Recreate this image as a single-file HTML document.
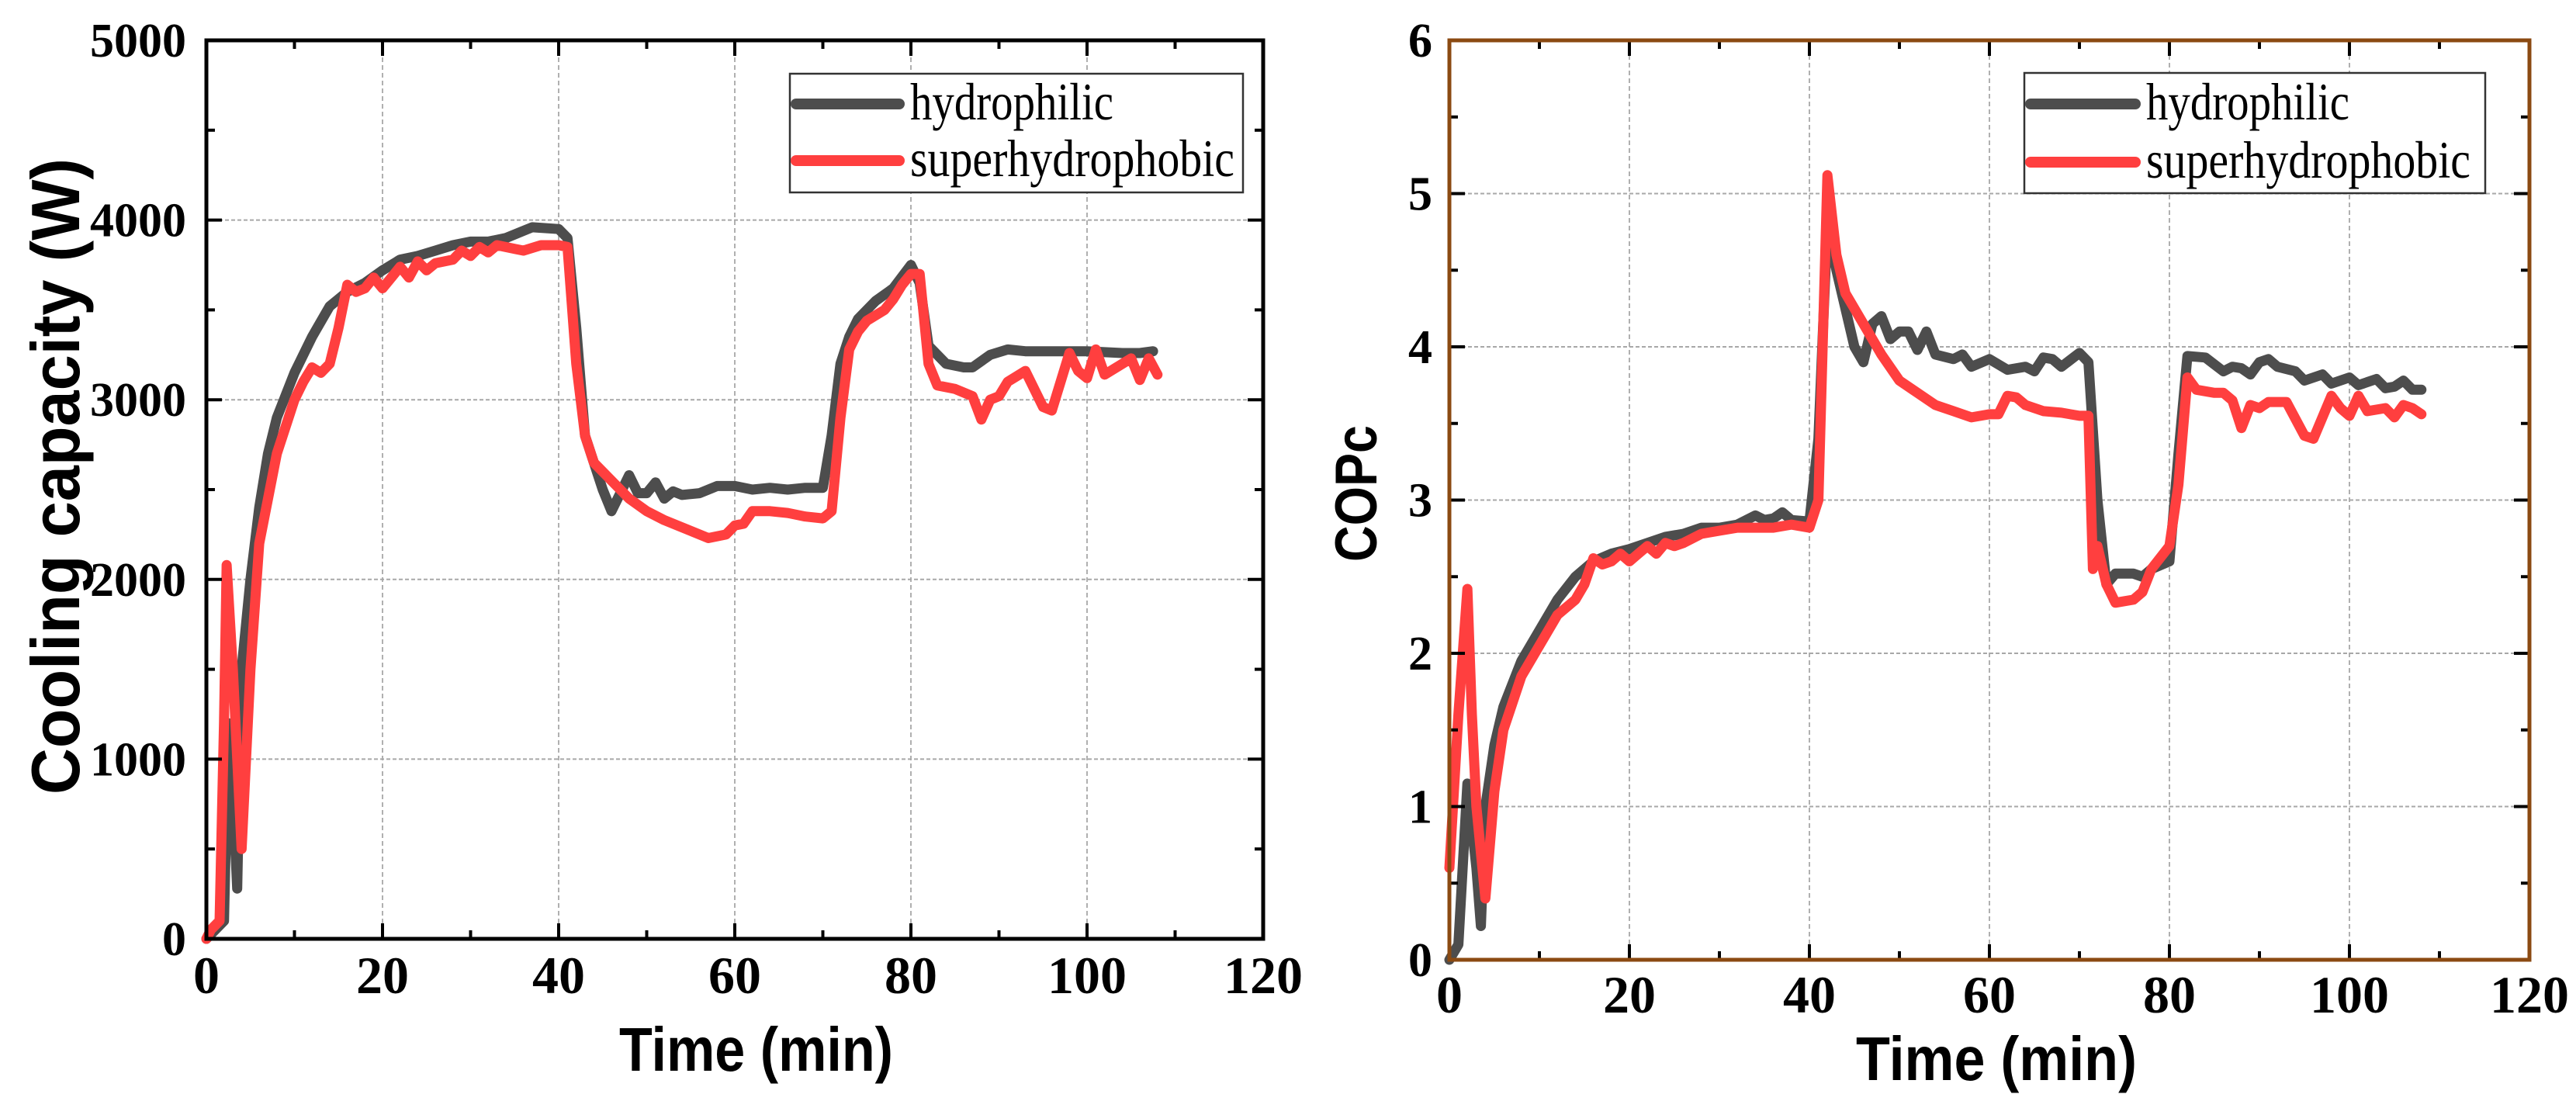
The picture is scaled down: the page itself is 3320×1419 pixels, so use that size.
<!DOCTYPE html>
<html><head><meta charset="utf-8"><style>
html,body{margin:0;padding:0;background:#fff;}
svg{display:block;}
</style></head><body>
<svg id="fig" width="3320" height="1419" viewBox="0 0 3320 1419" xmlns="http://www.w3.org/2000/svg">
<g id="left"></g>
<g id="right"></g>
</svg>
<script>
// ---- data: cooling capacity ----
const capHydT = [0,1,2,2.5,3,3.5,4,5,6,7,8,10,12,14,16,18,20,22,24,26,28,30,32,34,36,37,40,41,42,43,45,46,47,48,49,50,51,52,53,54,56,58,60,62,64,66,68,70,71,72,73,74,76,78,80,81,82,84,86,87,89,91,93,95,100,104,106,107.5];
const capHydV = [0,50,100,1200,800,280,1500,2000,2400,2700,2900,3150,3350,3520,3600,3650,3720,3780,3800,3830,3860,3880,3880,3900,3940,3960,3950,3900,3400,2800,2500,2380,2480,2580,2480,2480,2540,2450,2490,2470,2480,2520,2520,2500,2510,2500,2510,2510,2800,3200,3350,3450,3550,3620,3750,3650,3300,3200,3180,3180,3250,3280,3270,3270,3270,3260,3260,3270];
const capSupT = [0,0.5,1.5,2,2.3,3,4,5,6,8,10,11,12,13,14,15,16,17,18,19,20,21,22,23,24,25,26,28,29,30,31,32,33,35,36,38,40,41,42,43,44,46,48,50,52,54,56,57,59,60,61,62,64,66,68,70,71,72,73,74,75,77,78,79,80,81,82,83,85,87,88,89,90,91,93,95,96,98,99,100,101,102,104,105,106,107,108];
const capSupV = [0,50,100,1200,2080,1500,500,1500,2200,2700,3000,3100,3180,3150,3200,3400,3640,3600,3620,3680,3620,3680,3740,3680,3770,3720,3760,3780,3830,3800,3850,3820,3860,3840,3830,3860,3860,3850,3200,2800,2650,2550,2450,2380,2330,2290,2250,2230,2250,2300,2310,2380,2380,2370,2350,2340,2380,2900,3280,3380,3440,3500,3560,3640,3700,3700,3200,3080,3060,3020,2890,3000,3020,3100,3160,2960,2940,3260,3160,3120,3280,3140,3200,3230,3110,3230,3140];
const capYTicks = [0,1000,2000,3000,4000,5000];
// ---- data: COPc ----
const copHydT = [0,1,2,3,3.5,4,5,6,8,10,12,14,16,18,20,22,24,26,28,30,32,34,35,36,37,38,40,41,42,43,45,46,47,48,49,50,51,52,53,54,56,57,58,60,62,64,65,66,67,68,70,71,72,73,74,76,77,78,80,81,82,84,86,87,88,89,90,91,92,94,95,97,98,100,101,103,104,105,106,107,108];
const copHydV = [0,0.1,1.15,0.6,0.22,1.0,1.4,1.65,1.95,2.15,2.35,2.5,2.6,2.65,2.68,2.72,2.76,2.78,2.82,2.82,2.84,2.9,2.87,2.88,2.92,2.87,2.86,3.4,4.8,4.5,4.0,3.9,4.15,4.2,4.05,4.1,4.1,3.98,4.1,3.95,3.92,3.95,3.87,3.92,3.85,3.87,3.84,3.93,3.92,3.87,3.96,3.9,3.0,2.45,2.52,2.52,2.5,2.55,2.6,3.3,3.94,3.93,3.84,3.87,3.86,3.82,3.9,3.92,3.87,3.84,3.78,3.82,3.76,3.8,3.75,3.79,3.73,3.74,3.78,3.72,3.72];
const copSupT = [0,1,2,2.5,3,4,5,6,8,10,12,14,15,16,17,18,19,20,21,22,23,24,25,26,28,30,32,34,36,38,40,41,42,43,44,46,48,50,52,54,56,58,60,61,62,63,64,66,68,70,71,71.5,72,73,74,76,77,78,80,81,82,83,85,86,87,88,89,90,91,93,95,96,98,99,100,101,102,104,105,106,107,108];
const copSupV = [0.6,1.6,2.42,1.6,1.0,0.4,1.1,1.5,1.85,2.05,2.25,2.35,2.45,2.62,2.58,2.6,2.65,2.6,2.65,2.7,2.65,2.72,2.7,2.72,2.78,2.8,2.82,2.82,2.82,2.84,2.82,3.0,5.12,4.6,4.35,4.15,3.95,3.78,3.7,3.62,3.58,3.54,3.56,3.56,3.68,3.67,3.62,3.58,3.57,3.55,3.55,2.55,2.7,2.45,2.33,2.35,2.4,2.55,2.7,3.1,3.8,3.72,3.7,3.7,3.65,3.47,3.62,3.6,3.64,3.64,3.42,3.4,3.68,3.6,3.55,3.68,3.58,3.6,3.54,3.62,3.6,3.56];
const copYTicks = [0,1,2,3,4,5,6];
const xTicks = [0,20,40,60,80,100,120];
const seriesNames = ['hydrophilic','superhydrophobic'];

const NS='http://www.w3.org/2000/svg';
function mk(parent,tag,attrs){const e=document.createElementNS(NS,tag);for(const k in attrs)e.setAttribute(k,attrs[k]);parent.appendChild(e);return e;}

function drawChart(g,cfg){
  const {x0,x1,y0,y1,ymax,yTicks,yMinorStep,frame,hT,hV,sT,sV,leg,ylabel,yl,xl,yLabRight,xLabBase} = cfg;
  const sx=t=>x0+(t/120)*(x1-x0);
  const sy=v=>y0-(v/ymax)*(y0-y1);
  xTicks.forEach(t=>{ if(t>0&&t<120){const l=mk(g,'line',{x1:sx(t),x2:sx(t),y1:y0,y2:y1,stroke:'#b0b0b0','stroke-width':2,'stroke-dasharray':'6 4'});
    
    }});
  yTicks.forEach(v=>{ if(v>0&&v<ymax){const l=mk(g,'line',{x1:x0,x2:x1,y1:sy(v),y2:sy(v),stroke:'#a8a8a8','stroke-width':2,'stroke-dasharray':'5 3'});
    
    }});
  const ser=[[hT,hV,'#4d4d4d'],[sT,sV,'#ff3f3f']];
  ser.forEach((s,i)=>{
    let d='';s[0].forEach((t,j)=>{d+=(j?'L':'M')+sx(t).toFixed(1)+' '+sy(s[1][j]).toFixed(1);});
    const p=mk(g,'path',{d:d,fill:'none',stroke:s[2],'stroke-width':13,'stroke-linejoin':'round','stroke-linecap':'round'});
    
    
  });
  for(let t=0;t<=120;t+=10){const L=(t%20===0)?20:11;
    mk(g,'line',{x1:sx(t),x2:sx(t),y1:y0,y2:y0-L,stroke:'#000','stroke-width':4});
    mk(g,'line',{x1:sx(t),x2:sx(t),y1:y1,y2:y1+L,stroke:'#000','stroke-width':4});}
  for(let v=0;v<=ymax+1e-9;v+=yMinorStep){const maj=yTicks.some(q=>Math.abs(q-v)<1e-6);const L=maj?20:11;
    mk(g,'line',{x1:x0,x2:x0+L,y1:sy(v),y2:sy(v),stroke:'#000','stroke-width':4});
    mk(g,'line',{x1:x1,x2:x1-L,y1:sy(v),y2:sy(v),stroke:'#000','stroke-width':4});}
  const fr=mk(g,'rect',{x:x0,y:y1,width:x1-x0,height:y0-y1,fill:'none',stroke:frame,'stroke-width':5});
  
  
  yTicks.forEach(v=>{const tx=mk(g,'text',{x:yLabRight,y:sy(v)+21,'text-anchor':'end','font-family':'Liberation Serif, serif','font-weight':'bold','font-size':62});
    tx.textContent=v;
    
    });
  xTicks.forEach(t=>{const tx=mk(g,'text',{x:sx(t),y:xLabBase,'text-anchor':'middle','font-family':'Liberation Serif, serif','font-weight':'bold','font-size':68});
    tx.textContent=t;
    
    });
  const xt=mk(g,'text',{x:xl.x,y:xl.y,'font-family':'Liberation Sans, sans-serif','font-weight':'bold','font-size':80,textLength:xl.len,lengthAdjust:'spacingAndGlyphs'});
  xt.textContent='Time (min)';
  
  
  const yt=mk(g,'text',{x:0,y:0,'text-anchor':'middle','font-family':'Liberation Sans, sans-serif','font-weight':'bold','font-size':yl.fs,textLength:yl.len,lengthAdjust:'spacingAndGlyphs',transform:`translate(${yl.x},${yl.y}) rotate(-90)`});
  yt.textContent=ylabel;
  
  
  const lg=mk(g,'g',{});
  
  
  mk(lg,'rect',{x:leg.x,y:leg.y,width:leg.w,height:leg.h,fill:'#fff',stroke:'#333','stroke-width':2.5});
  [[leg.r1,'#4d4d4d'],[leg.r2,'#ff3f3f']].forEach((r,i)=>{
    mk(lg,'line',{x1:leg.x+8,x2:leg.tx-14,y1:r[0],y2:r[0],stroke:r[1],'stroke-width':14,'stroke-linecap':'round'});
    const t=mk(lg,'text',{x:leg.tx,y:r[0]+20,'font-family':'Liberation Serif, serif','font-size':68,textLength:i?418:262,lengthAdjust:'spacingAndGlyphs'});
    t.textContent=seriesNames[i];
    
    
  });
}

drawChart(document.getElementById('left'),{x0:266,x1:1628,y0:1210,y1:52,ymax:5000,yTicks:capYTicks,yMinorStep:500,frame:'#000',
  hT:capHydT,hV:capHydV,sT:capSupT,sV:capSupV,
  leg:{x:1018,y:95,w:584,h:153,r1:134,r2:207,tx:1173},
  ylabel:'Cooling capacity (W)',yl:{x:102,y:614,len:820,fs:88},xl:{x:798,y:1380,len:353},yLabRight:240,xLabBase:1280});
drawChart(document.getElementById('right'),{x0:1868,x1:3260,y0:1237,y1:52,ymax:6,yTicks:copYTicks,yMinorStep:0.5,frame:'#8b4a12',
  hT:copHydT,hV:copHydV,sT:copSupT,sV:copSupV,
  leg:{x:2609,y:94,w:594,h:155,r1:134,r2:209,tx:2766},
  ylabel:'COPc',yl:{x:1774,y:636,len:176,fs:76},xl:{x:2392,y:1392,len:362},yLabRight:1846,xLabBase:1305});
</script>
</body></html>
